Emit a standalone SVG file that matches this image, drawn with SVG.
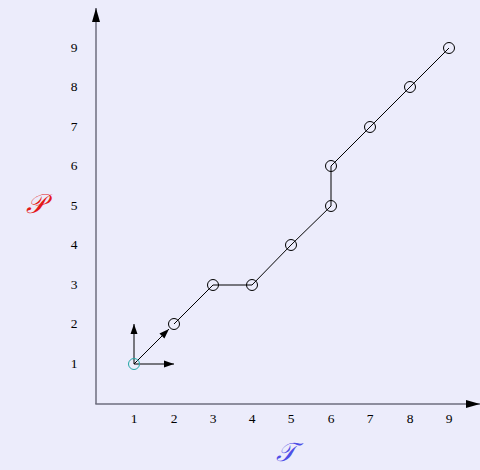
<svg xmlns="http://www.w3.org/2000/svg" width="480" height="470" viewBox="0 0 480 470">
<defs>
<marker id="ah" viewBox="0 0 10 10" refX="10" refY="5" markerWidth="10" markerHeight="10" markerUnits="userSpaceOnUse" orient="auto"><path d="M0,1.5 L10,5 L0,8.5 Z" fill="#000"/></marker>
<marker id="ahw" viewBox="0 0 14 10" refX="14" refY="5" markerWidth="14" markerHeight="10" markerUnits="userSpaceOnUse" orient="auto"><path d="M0,1 L14,5 L0,9 Z" fill="#000"/></marker>
<style>
.ax{stroke:#6e6e7e;stroke-width:1.5;fill:none}
.ln{stroke:#000;stroke-width:1;fill:none}
.pt{stroke:#000;stroke-width:1;fill:none}
.lb{font-family:"Liberation Serif",serif;font-size:13.5px;fill:#000;text-anchor:middle}
.v{stroke:#000;stroke-width:1;fill:none}
</style>
</defs>
<rect width="480" height="470" fill="#ececfb"/>
<g id="axes">
<line class="ax" x1="96" y1="404" x2="96" y2="8" marker-end="url(#ahw)"/>
<line class="ax" x1="95.3" y1="404" x2="480" y2="404" marker-end="url(#ahw)"/>
</g>
<g id="ticks-x">
<text class="lb" x="134" y="423">1</text>
<text class="lb" x="174" y="423">2</text>
<text class="lb" x="213" y="423">3</text>
<text class="lb" x="252" y="423">4</text>
<text class="lb" x="291" y="423">5</text>
<text class="lb" x="331" y="423">6</text>
<text class="lb" x="370" y="423">7</text>
<text class="lb" x="410" y="423">8</text>
<text class="lb" x="449" y="423">9</text>
</g>
<g id="ticks-y">
<text class="lb" x="74" y="368">1</text>
<text class="lb" x="74" y="328">2</text>
<text class="lb" x="74" y="289">3</text>
<text class="lb" x="74" y="249">4</text>
<text class="lb" x="74" y="210">5</text>
<text class="lb" x="74" y="170">6</text>
<text class="lb" x="74" y="131">7</text>
<text class="lb" x="74" y="91">8</text>
<text class="lb" x="74" y="52">9</text>
</g>
<g id="connectors">
<polyline class="ln" points="174,324 213,285 252,285 291,245 331,206 331,166 370,127 410,87 449,48"/>
<line class="v" x1="134" y1="364" x2="134" y2="324" marker-end="url(#ah)"/>
<line class="v" x1="134" y1="364" x2="174" y2="364" marker-end="url(#ah)"/>
<line class="v" x1="134" y1="364" x2="169" y2="329" marker-end="url(#ah)"/>
</g>
<g id="p1"><circle cx="134" cy="364" r="5.5" fill="none" stroke="#22a6a6" stroke-width="1"/></g>
<g id="p2"><circle class="pt" cx="174" cy="324" r="5.5"/></g>
<g id="p3"><circle class="pt" cx="213" cy="285" r="5.5"/></g>
<g id="p4"><circle class="pt" cx="252" cy="285" r="5.5"/></g>
<g id="p5"><circle class="pt" cx="291" cy="245" r="5.5"/></g>
<g id="p6"><circle class="pt" cx="331" cy="206" r="5.5"/></g>
<g id="p7"><circle class="pt" cx="331" cy="166" r="5.5"/></g>
<g id="p8"><circle class="pt" cx="370" cy="127" r="5.5"/></g>
<g id="p9"><circle class="pt" cx="410" cy="87" r="5.5"/></g>
<g id="p10"><circle class="pt" cx="449" cy="48" r="5.5"/></g>
<g id="labels">
<text x="35" y="213" font-family="'DejaVu Serif','Liberation Serif',serif" font-style="italic" font-size="27" fill="#e41a1a" text-anchor="middle">𝒫</text>
<text x="286" y="461" font-family="'DejaVu Serif','Liberation Serif',serif" font-style="italic" font-size="26" fill="#4f4fe6" text-anchor="middle">𝒯</text>
</g>
</svg>
